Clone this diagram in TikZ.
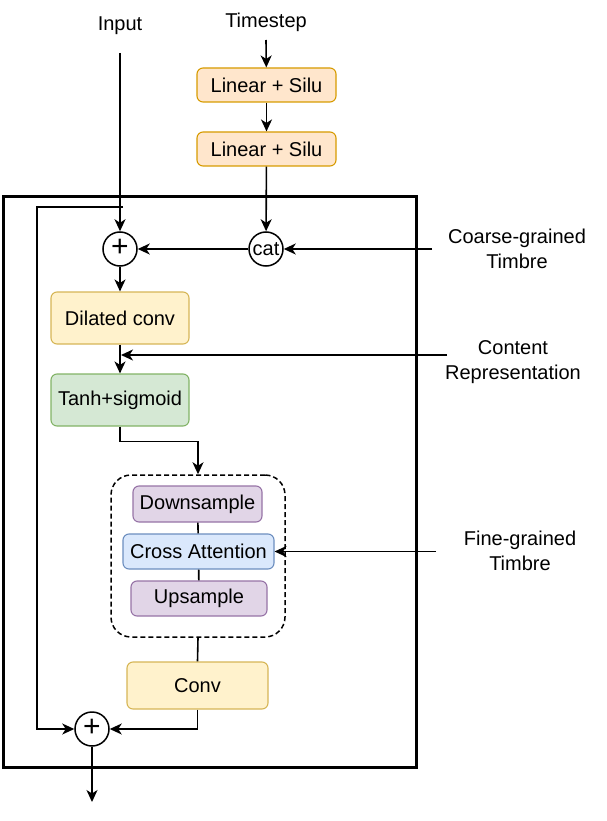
\documentclass[tikz,border=0pt]{standalone}
\usepackage{fontspec}
\setmainfont{Liberation Sans}
\usetikzlibrary{arrows.meta,calc}
\definecolor{orF}{HTML}{FFE6CC}\definecolor{orD}{HTML}{D79B00}
\definecolor{yeF}{HTML}{FFF2CC}\definecolor{yeD}{HTML}{D6B656}
\definecolor{grF}{HTML}{D5E8D4}\definecolor{grD}{HTML}{82B366}
\definecolor{puF}{HTML}{E1D5E7}\definecolor{puD}{HTML}{9673A6}
\definecolor{blF}{HTML}{DAE8FC}\definecolor{blD}{HTML}{6C8EBF}
\begin{document}
\begin{tikzpicture}[x=1pt,y=-1pt,
  font=\fontsize{20}{25.5}\selectfont,
  box/.style={draw, rounded corners=6pt, line width=1.1pt, inner sep=0pt, align=center},
  orbox/.style={box, fill=orF, draw=orD},
  yebox/.style={box, fill=yeF, draw=yeD},
  grbox/.style={box, fill=grF, draw=grD},
  pubox/.style={box, fill=puF, draw=puD},
  blbox/.style={box, fill=blF, draw=blD},
  circ/.style={circle, draw, line width=1.5pt, minimum size=34pt, inner sep=0pt, fill=white},
  plus/.style={circ, font=\fontsize{30}{30}\selectfont},
  lbl/.style={align=center, inner sep=0pt},
  arr/.style={-{Stealth[length=12pt,width=11pt,inset=3.5pt]}, line width=1.6pt},
  ln/.style={line width=1.6pt}]
\useasboundingbox (0,0) rectangle (606,821);

% outer frame
\draw[line width=3pt] (3,196) rectangle (416,767);

% texts
\node[lbl] (input) at (120,26) {Input};
\node[lbl] (ts) at (266,22) {Timestep};
\node[lbl] (coarse) at (517,249) {Coarse-grained\\Timbre};
\node[lbl] (content) at (513,362) {Content\\Representation};
\node[lbl] (fine) at (520,551) {Fine-grained\\Timbre};

% boxes
\node[orbox, minimum width=139pt, minimum height=34pt] (lin1) at (266.5,85) {Linear + Silu};
\node[orbox, minimum width=139pt, minimum height=34pt] (lin2) at (266.5,149) {Linear + Silu};
\node[circ] (cat) at (266,249) {cat};
\node[plus] (p1) at (120,249) {\raisebox{1.5pt}{+}};
\node[yebox, minimum width=138pt, minimum height=52pt] (dil) at (120,318) {Dilated conv};
\node[grbox, minimum width=138pt, minimum height=52pt] (tanh) at (120,400) {Tanh+sigmoid};
\node[draw, dash pattern=on 5pt off 3pt, line width=1.5pt, rounded corners=20pt, minimum width=174pt, minimum height=162pt] (grp) at (198,556) {};
\node[pubox, minimum width=129pt, minimum height=36pt] (down) at (197.5,504) {Downsample};
\node[blbox, minimum width=151pt, minimum height=35pt] (cross) at (198.5,551.5) {Cross Attention};
\node[pubox, minimum width=136pt, minimum height=35pt] (up) at (199,598.5) {Upsample};
\node[yebox, minimum width=141pt, minimum height=47pt] (conv) at (197.5,685.5) {Conv};
\node[plus] (p2) at (92,729) {\raisebox{1.5pt}{+}};

% free ends
\coordinate (inTop) at (120,53);
\coordinate (tsEnd) at (266,40);
\coordinate (cgStart) at (432,249);
\coordinate (crStart) at (447,355);
\coordinate (crEnd) at (121,355);
\coordinate (fgStart) at (436,551.5);
\coordinate (skipStart) at (123,207);
\coordinate (outEnd) at (92,802);

% connectors
\draw[arr] (inTop) -- (p1);
\draw[arr] (tsEnd) -- (lin1);
\draw[arr] (lin1) -- (lin2);
\draw[arr] (lin2) -- (cat);
\draw[arr] (cgStart) -- (cat);
\draw[arr] (cat) -- (p1);
\draw[arr] (p1) -- (dil);
\draw[arr] (dil) -- (tanh);
\draw[arr] (crStart) -- (crEnd);
\draw[arr] (tanh.south) -- ++(0,15) -| (grp.north);
\draw[ln] (down) -- (cross);
\draw[ln] (cross) -- (up);
\draw[arr] (fgStart) -- (cross);
\draw[ln] (grp.south) -- (conv.north);
\draw[arr] (conv.south) |- (p2);
\draw[arr] (skipStart) -- (37,207) |- (p2);
\draw[arr] (p2) -- (outEnd);
\end{tikzpicture}
\end{document}
